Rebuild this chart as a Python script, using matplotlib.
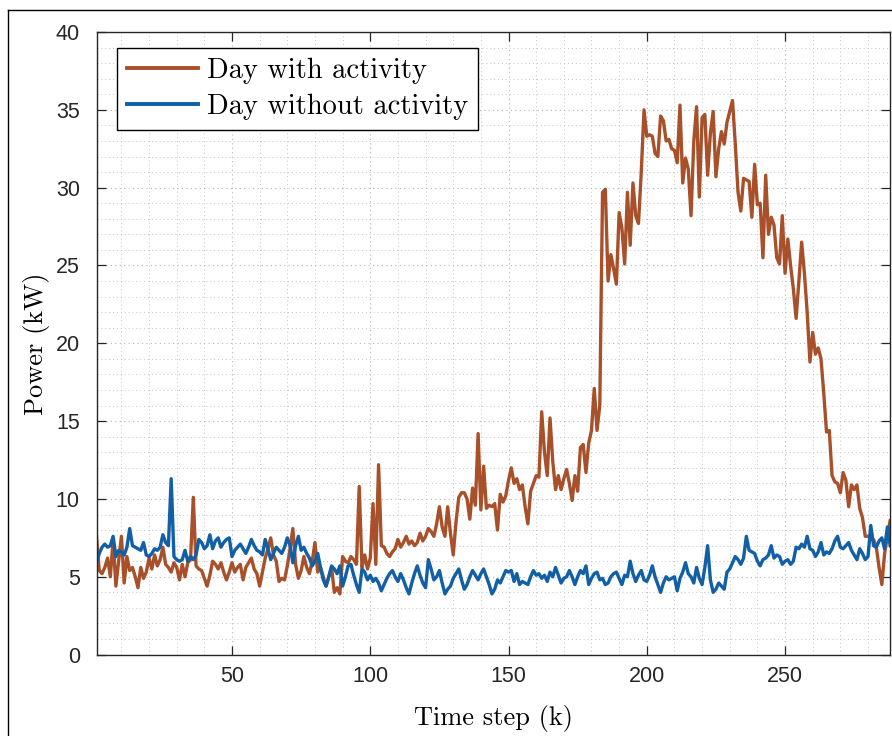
import matplotlib
matplotlib.use("Agg")
import matplotlib.pyplot as plt
from matplotlib.lines import Line2D
from matplotlib.ticker import MultipleLocator

# power profiles, one value per time step (k = 1..288)
day_with_activity = [
    7.6, 5.4, 5.2, 5.6, 6.2, 5.0, 7.4, 4.4, 6.0, 7.6,
    4.6, 6.3, 5.4, 5.6, 5.0, 4.3, 5.6, 4.9, 5.3, 6.2,
    5.5, 6.4, 5.7, 6.1, 6.9, 5.8, 5.6, 5.3, 5.9, 5.6,
    4.8, 5.8, 5.0, 5.9, 6.1, 10.1, 5.7, 5.5, 5.4, 4.9,
    4.4, 5.1, 6.0, 5.8, 5.5, 5.9, 5.3, 4.8, 5.3, 5.9,
    5.3, 5.6, 5.8, 4.8, 5.6, 5.9, 6.2, 5.5, 5.2, 4.4,
    5.3, 6.2, 6.8, 7.5, 6.4, 6.0, 4.7, 4.9, 4.8, 5.7,
    6.8, 8.1, 5.8, 4.9, 5.4, 6.3, 5.6, 5.2, 6.0, 7.2,
    5.3, 5.6, 5.0, 4.4, 5.0, 5.6, 4.0, 4.3, 3.9, 6.3,
    6.0, 5.9, 6.3, 6.1, 5.8, 10.8, 5.6, 6.4, 5.5, 6.2,
    9.7, 5.8, 12.2, 7.0, 6.9, 6.5, 6.3, 6.6, 6.8, 7.4,
    6.9, 7.2, 7.6, 7.1, 7.3, 7.0, 7.2, 7.8, 7.3, 7.6,
    8.1, 7.9, 7.6, 8.4, 9.5, 8.2, 7.6, 9.5, 7.8, 6.4,
    8.5, 10.1, 10.4, 10.4, 10.0, 8.7, 10.7, 9.6, 14.2, 9.3,
    12.1, 9.4, 9.6, 9.5, 9.7, 8.0, 10.3, 9.8, 10.2, 11.2,
    12.0, 11.0, 11.3, 10.6, 10.9, 9.5, 8.4, 10.5, 11.0, 11.5,
    11.4, 15.6, 13.0, 11.5, 15.2, 12.4, 10.6, 11.5, 10.6, 11.3,
    11.9, 11.0, 9.9, 11.5, 10.5, 13.3, 13.5, 11.7, 13.6, 14.4,
    17.1, 14.4, 16.0, 29.7, 29.9, 24.0, 25.7, 24.8, 23.8, 28.4,
    27.4, 25.1, 29.7, 26.3, 30.3, 28.2, 27.7, 31.0, 35.0, 33.3,
    33.4, 33.3, 32.2, 32.0, 34.6, 34.3, 33.0, 33.1, 32.5, 32.4,
    31.6, 35.3, 30.3, 31.9, 31.2, 28.2, 33.0, 35.2, 29.4, 34.5,
    34.7, 30.8, 33.5, 34.9, 30.7, 32.5, 33.6, 32.8, 34.2, 34.9,
    35.6, 32.8, 29.7, 28.5, 30.6, 30.5, 30.4, 28.1, 31.5, 28.9,
    29.0, 25.5, 30.8, 27.0, 28.1, 27.6, 25.5, 25.1, 28.2, 24.5,
    26.7, 25.0, 23.5, 21.6, 24.0, 26.5, 24.5, 22.0, 18.8, 20.7,
    19.3, 19.7, 19.0, 16.8, 14.3, 14.4, 11.5, 11.1, 11.0, 10.4,
    11.7, 11.2, 9.5, 10.9, 10.6, 10.9, 9.4, 8.8, 7.6, 7.6,
    7.5, 7.4, 6.9, 5.6, 4.5, 6.5, 7.6, 8.6,
]

day_without_activity = [
    5.9, 6.5, 6.9, 7.1, 6.9, 7.0, 7.6, 6.3, 6.7, 6.6,
    6.4, 6.9, 8.1, 7.0, 6.9, 6.8, 6.7, 7.2, 6.4, 6.3,
    6.5, 6.8, 6.7, 6.9, 7.7, 7.2, 7.0, 11.3, 6.3, 6.1,
    6.0, 6.1, 6.7, 6.0, 6.3, 6.1, 6.4, 7.4, 7.2, 6.8,
    7.0, 7.7, 6.8, 7.3, 7.5, 6.9, 7.2, 7.4, 7.5, 6.3,
    6.7, 6.9, 7.1, 6.8, 6.5, 6.9, 7.4, 7.0, 6.7, 6.6,
    6.4, 7.4, 6.8, 6.1, 6.5, 6.9, 6.7, 6.5, 6.9, 7.5,
    7.0, 5.9, 7.0, 7.6, 6.7, 6.9, 6.5, 6.2, 5.7, 6.0,
    6.5, 5.6, 4.8, 4.4, 5.0, 5.7, 5.5, 5.2, 5.7, 4.4,
    5.0, 5.7, 5.8, 5.1, 4.5, 4.0, 5.5, 5.3, 4.8, 5.1,
    4.7, 4.9, 4.6, 4.1, 4.5, 4.9, 5.2, 5.4, 5.0, 4.7,
    5.2, 4.8, 4.3, 3.9, 4.6, 5.2, 5.7, 5.1, 4.6, 4.3,
    6.1, 5.5, 4.8, 5.0, 5.4, 4.6, 3.9, 4.2, 4.4, 4.9,
    5.2, 5.5, 4.8, 4.2, 4.5, 5.0, 5.4, 5.1, 4.8, 5.2,
    5.5, 5.0, 4.5, 3.9, 4.2, 4.8, 4.6, 5.0, 5.4, 5.3,
    5.4, 4.7, 5.2, 4.5, 4.7, 4.6, 4.5, 5.0, 5.4, 5.1,
    5.2, 4.9, 5.1, 4.7, 5.3, 5.0, 5.6, 5.1, 4.6, 4.9,
    5.0, 5.4, 5.0, 4.5, 5.0, 5.4, 5.2, 5.7, 4.5, 4.9,
    5.2, 5.3, 4.8, 4.9, 4.5, 4.6, 5.0, 5.2, 5.3, 4.9,
    4.5, 5.1, 5.0, 6.0, 5.2, 4.7, 5.1, 5.4, 4.8, 4.7,
    5.1, 5.7, 5.0, 4.5, 4.0, 4.6, 5.0, 4.8, 4.9, 5.0,
    4.1, 4.9, 5.3, 5.9, 5.2, 5.0, 4.6, 5.6, 4.9, 4.5,
    5.6, 7.0, 4.8, 4.0, 4.2, 4.6, 4.4, 4.2, 5.3, 5.5,
    5.9, 6.3, 6.1, 5.8, 6.2, 7.6, 6.7, 6.6, 6.5, 6.0,
    5.7, 6.1, 6.2, 6.4, 7.0, 6.2, 6.4, 6.3, 5.8, 6.0,
    6.1, 5.8, 6.0, 6.9, 6.8, 7.1, 6.9, 7.6, 6.8, 6.7,
    6.3, 6.6, 7.2, 6.4, 6.6, 6.5, 6.8, 7.3, 7.6, 6.9,
    6.8, 7.0, 7.2, 6.7, 6.4, 6.1, 6.8, 6.5, 6.1, 6.3,
    8.3, 7.0, 6.9, 7.3, 7.5, 6.8, 8.2, 7.0,
]

series_labels = ["Day with activity", "Day without activity"]
x_ticks = [50, 100, 150, 200, 250]
y_ticks = [0, 5, 10, 15, 20, 25, 30, 35, 40]

steps = list(range(1, len(day_with_activity) + 1))

serif = "cmr10"
tick_font = "Liberation Sans"

fig = plt.figure(figsize=(8.92, 7.36), dpi=100)
ax = fig.add_axes([0.1082, 0.1106, 0.8897, 0.8459])

ax.plot(steps, day_with_activity, color="#a8502a", lw=2.4, label=series_labels[0])
ax.plot(steps, day_without_activity, color="#125fa6", lw=2.4, label=series_labels[1])

ax.set_xlim(1, 288)
ax.set_ylim(0, 40)
ax.set_xticks(x_ticks)
ax.set_yticks(y_ticks)
ax.xaxis.set_minor_locator(MultipleLocator(10))
ax.yaxis.set_minor_locator(MultipleLocator(1))

ax.grid(which="major", color="#b4b4b4", linestyle=(0, (1, 3)), lw=0.8)
ax.grid(which="minor", color="#c4c4c4", linestyle=(0, (1, 3)), lw=0.7)
ax.set_axisbelow(True)

ax.tick_params(which="major", direction="in", top=True, right=True,
               length=6.5, width=0.9, color="#262626", labelsize=15.5)
ax.tick_params(axis="x", which="major", pad=8)
ax.tick_params(axis="y", which="major", pad=12)
ax.tick_params(which="minor", length=0)
for lab in ax.get_xticklabels() + ax.get_yticklabels():
    lab.set_fontfamily(tick_font)
    lab.set_color("#262626")
for sp in ax.spines.values():
    sp.set_color("#262626")
    sp.set_linewidth(1.0)

ax.set_xlabel("Time step (k)", fontsize=19, fontfamily=serif, labelpad=13)
ax.set_ylabel("Power (kW)", fontsize=19, fontfamily=serif, labelpad=4)

leg = ax.legend(loc="upper left", bbox_to_anchor=(0.0258, 0.9746), borderaxespad=0,
                prop={"family": serif, "size": 20.5}, fancybox=False, framealpha=1,
                edgecolor="black", handlelength=2.5, handletextpad=0.3,
                borderpad=0.35, labelspacing=0.32)
leg.get_frame().set_linewidth(1.0)
for h in leg.get_lines():
    h.set_linewidth(2.8)

# outer frame around the figure (only top and left edges visible)
fig.add_artist(Line2D([8 / 892, 8 / 892], [0, 1 - 10 / 736], color="black", lw=1.0,
                      transform=fig.transFigure))
fig.add_artist(Line2D([8 / 892, 1], [1 - 10 / 736, 1 - 10 / 736], color="black", lw=1.0,
                      transform=fig.transFigure))

fig.savefig("out.png", dpi=100)
